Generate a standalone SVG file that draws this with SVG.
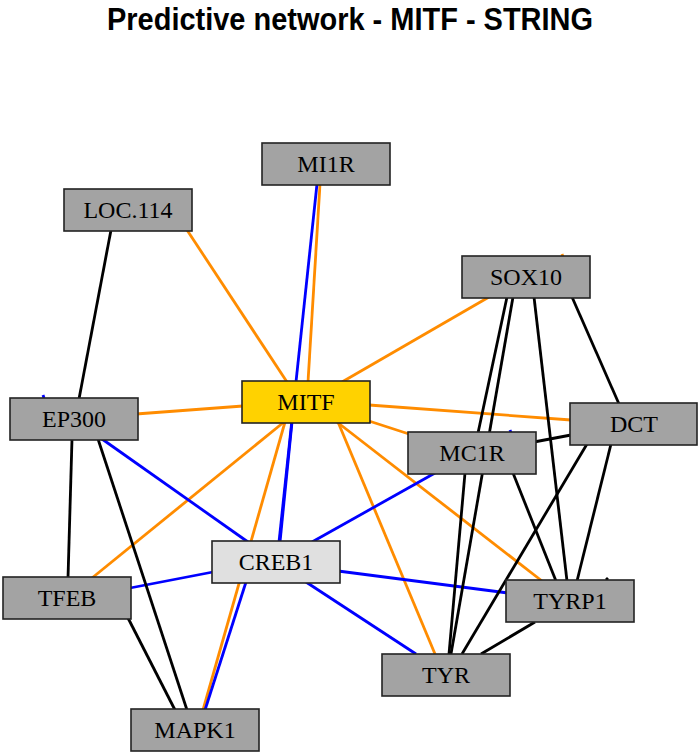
<svg xmlns="http://www.w3.org/2000/svg" width="700" height="755" viewBox="0 0 700 755">
<style>
.o{stroke:#FF8C00;stroke-width:2.8;fill:none}
.b{stroke:#0000FF;stroke-width:2.8;fill:none}
.k{stroke:#000000;stroke-width:2.8;fill:none}
.n rect{fill:#A3A3A3;stroke:#222;stroke-width:1.6}
.n text{font-family:"Liberation Serif","Times New Roman",serif;font-size:24px;fill:#000;text-anchor:middle}
</style>
<rect width="700" height="755" fill="#fff"/>
<text x="350" y="30" font-family="Liberation Sans, Arial, sans-serif" font-weight="bold" font-size="31" text-anchor="middle" textLength="486" lengthAdjust="spacingAndGlyphs">Predictive network - MITF - STRING</text>
<g id="connectors">
<line class="o" x1="187" y1="230" x2="287" y2="382"/>
<line class="o" x1="320" y1="184" x2="308" y2="382"/>
<line class="o" x1="489" y1="297" x2="342" y2="382"/>
<line class="o" x1="136" y1="414" x2="243" y2="406"/>
<line class="o" x1="369" y1="405" x2="571" y2="420"/>
<line class="o" x1="369" y1="421" x2="409" y2="434"/>
<line class="o" x1="337" y1="422" x2="542" y2="581"/>
<line class="o" x1="338" y1="422" x2="435" y2="654"/>
<line class="o" x1="284" y1="422" x2="92" y2="578"/>
<line class="o" x1="285" y1="422" x2="203" y2="710"/>
<line class="b" x1="317" y1="184" x2="279" y2="542"/>
<line class="b" x1="292" y1="422" x2="280" y2="542" stroke-width="5"/>
<line class="b" x1="102" y1="439" x2="248" y2="542"/>
<line class="b" x1="130" y1="588" x2="213" y2="572"/>
<line class="b" x1="435" y1="473" x2="312" y2="542"/>
<line class="b" x1="338" y1="571" x2="508" y2="593"/>
<line class="b" x1="306" y1="582" x2="416" y2="654"/>
<line class="b" x1="246" y1="582" x2="205" y2="710"/>
<line class="k" x1="111" y1="230" x2="79" y2="399"/>
<line class="k" x1="72" y1="439" x2="68" y2="578"/>
<line class="k" x1="98" y1="439" x2="187" y2="710"/>
<line class="k" x1="128" y1="618" x2="175" y2="710"/>
<line class="k" x1="507" y1="297" x2="478" y2="433"/>
<line class="k" x1="513" y1="297" x2="451" y2="654"/>
<line class="k" x1="465" y1="473" x2="449" y2="654"/>
<line class="k" x1="534" y1="297" x2="567" y2="581"/>
<line class="k" x1="572" y1="297" x2="619" y2="404"/>
<line class="k" x1="534" y1="442" x2="571" y2="435"/>
<line class="k" x1="513" y1="473" x2="556" y2="581"/>
<line class="k" x1="587" y1="444" x2="462" y2="654"/>
<line class="k" x1="611" y1="444" x2="577" y2="581"/>
<line class="k" x1="535" y1="622" x2="481" y2="654"/>
<line class="b" x1="43" y1="395" x2="44" y2="398" stroke-width="1.5"/>
<line class="b" x1="510" y1="430" x2="511" y2="433" stroke-width="1.5"/>
<line class="k" x1="606" y1="578" x2="608" y2="580" stroke-width="1.5"/>
<line class="o" x1="562" y1="254" x2="563" y2="257" stroke-width="1.5"/>
</g>
<g id="MI1R" class="n"><rect x="262" y="143" width="128" height="42"/><text x="326" y="172">MI1R</text></g>
<g id="LOC114" class="n"><rect x="64" y="189" width="128" height="42"/><text x="128" y="218">LOC.114</text></g>
<g id="SOX10" class="n"><rect x="462" y="256" width="128" height="42"/><text x="526" y="285">SOX10</text></g>
<g id="MITF" class="n"><rect x="242" y="381" width="128" height="42" style="fill:#FFD200"/><text x="306" y="410">MITF</text></g>
<g id="EP300" class="n"><rect x="10" y="398" width="128" height="42"/><text x="74" y="427">EP300</text></g>
<g id="DCT" class="n"><rect x="570" y="403" width="127" height="42"/><text x="634" y="432">DCT</text></g>
<g id="MC1R" class="n"><rect x="408" y="432" width="128" height="42"/><text x="472" y="461">MC1R</text></g>
<g id="CREB1" class="n"><rect x="212" y="541" width="128" height="42" style="fill:#E0E0E0"/><text x="276" y="570">CREB1</text></g>
<g id="TFEB" class="n"><rect x="3" y="577" width="128" height="42"/><text x="67" y="606">TFEB</text></g>
<g id="TYRP1" class="n"><rect x="506" y="580" width="128" height="42"/><text x="570" y="609">TYRP1</text></g>
<g id="TYR" class="n"><rect x="382" y="654" width="128" height="42"/><text x="446" y="683">TYR</text></g>
<g id="MAPK1" class="n"><rect x="131" y="709" width="128" height="42"/><text x="195" y="738">MAPK1</text></g>
</svg>
